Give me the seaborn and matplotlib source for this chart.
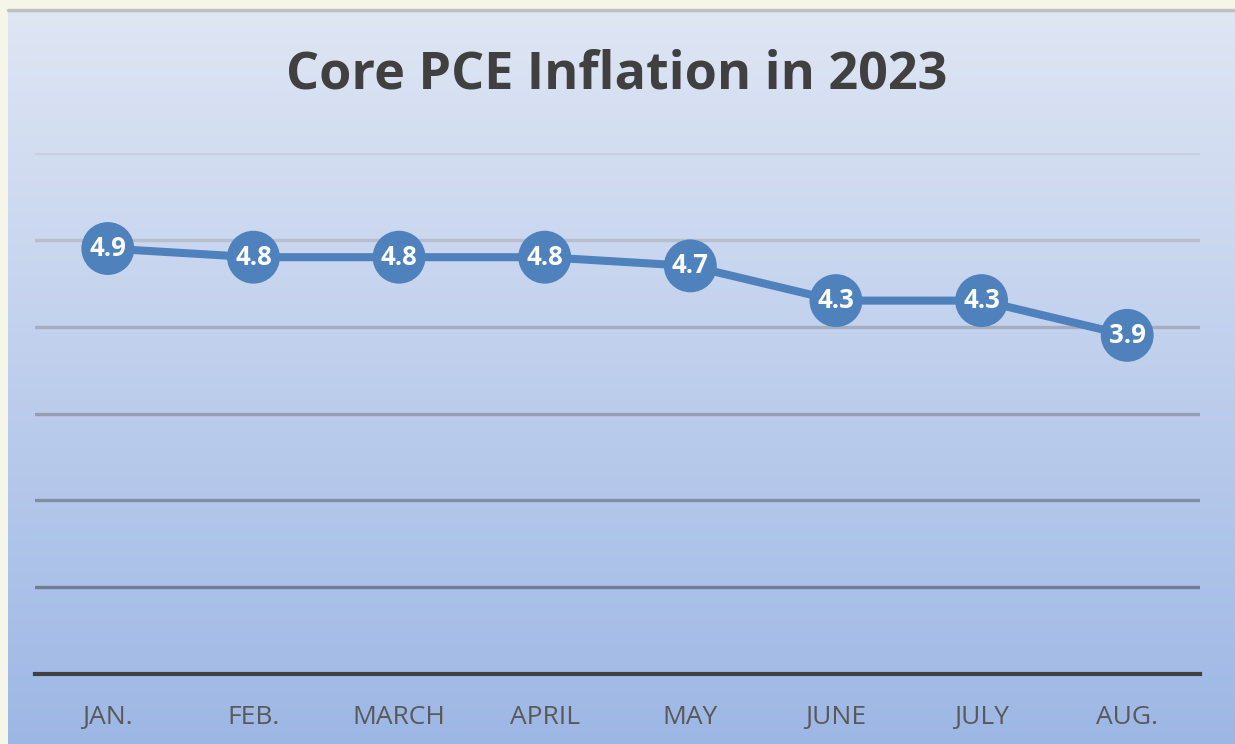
import numpy as np
import pandas as pd
import matplotlib
matplotlib.use("Agg")
import matplotlib.pyplot as plt
import seaborn as sns
from matplotlib.colors import LinearSegmentedColormap, to_rgb

months = ["JAN.", "FEB.", "MARCH", "APRIL", "MAY", "JUNE", "JULY", "AUG."]
values = [4.9, 4.8, 4.8, 4.8, 4.7, 4.3, 4.3, 3.9]
title = "Core PCE Inflation in 2023"

sns.set_theme(style="white")
plt.rcParams["font.family"] = ["Open Sans", "DejaVu Sans"]

W, H = 1235, 744
fig = plt.figure(figsize=(W / 100, H / 100), dpi=100)
fig.patch.set_facecolor("#f6f6e8")

# gradient chart background
bg = fig.add_axes([8 / W, 0, 1 - 8 / W, (H - 10) / H])
cmap = LinearSegmentedColormap.from_list("g", ["#9db7e5", "#dfe6f4"])
grad = np.linspace(0, 1, 256).reshape(-1, 1)
bg.imshow(grad, aspect="auto", cmap=cmap, origin="lower", extent=[0, 1, 0, 1])
bg.set_xlim(0, 1)
bg.set_ylim(0, 1)
bg.axis("off")
fig.add_artist(plt.Line2D([8 / W, 1], [1 - 9.5 / H, 1 - 9.5 / H], color="#c0c0c0", lw=2.5))

ax = fig.add_axes([35 / W, (H - 674) / H, (1200 - 35) / W, (674 - 153) / H])
ax.patch.set_alpha(0)
df = pd.DataFrame({"month": months, "value": values})
df["x"] = np.arange(len(months))

ax.set_ylim(0, 6)
ax.set_xlim(-0.5, len(months) - 0.5)
top_c = np.array(to_rgb("#c9cfdb"))
bot_c = np.array(to_rgb("#6f7d96"))
for yv in range(1, 7):
    t = (yv - 1) / 5
    c = bot_c * (1 - t) + top_c * t
    ax.axhline(yv, color=c, lw=2.4, zorder=1)

sns.lineplot(data=df, x="x", y="value", ax=ax, color="#4f81bd", lw=5.8, zorder=3, legend=False)
sns.scatterplot(data=df, x="x", y="value", ax=ax, color="#4f81bd", s=1450, edgecolor="none", zorder=4, legend=False)
for xi, v in zip(df["x"], df["value"]):
    ax.text(xi, v, f"{v:.1f}", ha="center", va="center", color="white",
            fontsize=18.5, fontweight="bold", zorder=5)

for s in ["top", "left", "right"]:
    ax.spines[s].set_visible(False)
ax.spines["bottom"].set_color("#404040")
ax.spines["bottom"].set_linewidth(3)
ax.set_yticks([])
ax.set_xticks(df["x"])
ax.set_xticklabels(months, fontsize=19, color="#595959")
ax.tick_params(axis="x", length=0, pad=22)
ax.set_xlabel("")
ax.set_ylabel("")

fig.text(617 / W, 1 - 75 / H, title, ha="center", va="center", fontsize=37.5,
         fontweight="bold", color="#404040")

fig.savefig("out.png", dpi=100)
